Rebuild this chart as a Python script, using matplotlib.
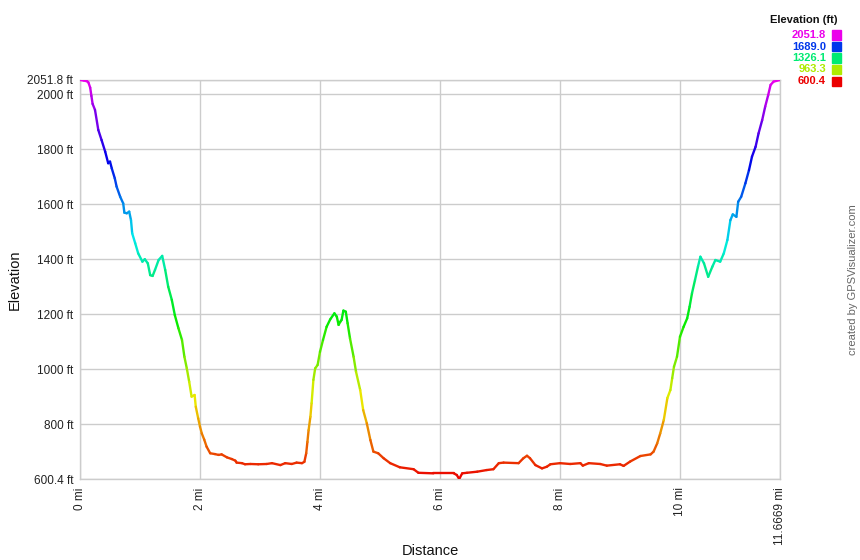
import numpy as np
import matplotlib
matplotlib.use("Agg")
import matplotlib.pyplot as plt
from matplotlib.collections import LineCollection
from matplotlib.colors import ListedColormap, Normalize, hsv_to_rgb

plt.rcParams['font.family'] = ['Liberation Sans', 'DejaVu Sans']

# ---- data (miles, feet) ----
dist = [0.00, 0.06, 0.12, 0.14, 0.17, 0.19, 0.21, 0.25, 0.305, 0.36, 0.42, 0.47, 0.50, 0.53,
        0.58, 0.61, 0.67, 0.72, 0.74, 0.78, 0.82, 0.85, 0.87, 0.92, 0.97, 1.04, 1.08, 1.13,
        1.17, 1.21, 1.25, 1.31, 1.37, 1.42, 1.47, 1.53, 1.58, 1.64, 1.70, 1.74, 1.78, 1.82,
        1.86, 1.91, 1.93, 1.97, 2.00, 2.03, 2.07, 2.11, 2.17, 2.25, 2.31, 2.36, 2.45, 2.53,
        2.59, 2.61, 2.70, 2.75, 2.84, 2.97, 3.11, 3.20, 3.34, 3.42, 3.53, 3.61, 3.70, 3.74,
        3.77, 3.79, 3.81, 3.84, 3.86, 3.89, 3.92, 3.96, 4.00, 4.05, 4.11, 4.17, 4.24, 4.28,
        4.31, 4.34, 4.36, 4.39, 4.43, 4.46, 4.50, 4.56, 4.60, 4.67, 4.72, 4.78, 4.84, 4.89,
        4.97, 5.06, 5.17, 5.33, 5.56, 5.64, 5.89, 6.23, 6.28, 6.32, 6.37, 6.45, 6.62, 6.78,
        6.89, 6.98, 7.06, 7.31, 7.39, 7.45, 7.50, 7.59, 7.70, 7.78, 7.84, 8.00, 8.17, 8.34,
        8.38, 8.48, 8.67, 8.78, 9.00, 9.06, 9.17, 9.34, 9.51, 9.56, 9.62, 9.67, 9.73, 9.79,
        9.84, 9.87, 9.90, 9.95, 10.00, 10.06, 10.12, 10.16, 10.20, 10.25, 10.30, 10.34, 10.40,
        10.47, 10.54, 10.59, 10.67, 10.73, 10.79, 10.84, 10.88, 10.94, 10.97, 11.02, 11.09,
        11.15, 11.20, 11.26, 11.31, 11.37, 11.42, 11.47, 11.51, 11.56, 11.6669]
elev = [2051.8, 2050, 2047, 2043, 2024, 1994, 1965, 1943, 1870, 1833, 1791, 1749, 1755, 1730,
        1694, 1664, 1627, 1603, 1569, 1567, 1573, 1542, 1494, 1458, 1421, 1391, 1400, 1385,
        1342, 1339, 1361, 1397, 1412, 1361, 1300, 1252, 1197, 1149, 1106, 1045, 1003, 954,
        900, 906, 863, 821, 791, 766, 744, 718, 694, 691, 688, 690, 679, 673,
        667, 660, 658, 654, 655, 654, 655, 658, 651, 658, 655, 660, 658, 663,
        694, 735, 778, 827, 876, 961, 1003, 1015, 1063, 1106, 1154, 1181, 1203, 1191,
        1161, 1173, 1179, 1213, 1209, 1167, 1112, 1045, 991, 924, 851, 803, 742, 700,
        694, 676, 658, 643, 636, 623, 621, 621, 615, 600.4, 621, 623, 627, 633,
        636, 658, 660, 658, 676, 685, 676, 651, 639, 645, 654, 658, 655, 658,
        649, 658, 655, 649, 654, 648, 664, 684, 690, 700, 730, 766, 815, 895,
        924, 967, 1009, 1045, 1118, 1154, 1185, 1227, 1276, 1324, 1373, 1409, 1385,
        1336, 1373, 1397, 1391, 1421, 1470, 1542, 1563, 1554, 1609, 1627, 1676,
        1724, 1773, 1809, 1858, 1906, 1955, 1997, 2034, 2046, 2051.8]

y_min, y_max = 600.4, 2051.8
x_max = 11.6669
y_ticks = [600.4, 800, 1000, 1200, 1400, 1600, 1800, 2000, 2051.8]
y_ticklabels = ["600.4 ft", "800 ft", "1000 ft", "1200 ft", "1400 ft", "1600 ft",
                "1800 ft", "2000 ft", "2051.8 ft"]
x_ticks = [0, 2, 4, 6, 8, 10, 11.6669]
x_ticklabels = ["0 mi", "2 mi", "4 mi", "6 mi", "8 mi", "10 mi", "11.6669 mi"]
legend_values = [2051.8, 1689.0, 1326.1, 963.3, 600.4]
legend_labels = ["2051.8", "1689.0", "1326.1", "963.3", "600.4"]

# colormap: hue 0 (red) -> 300 deg (magenta)
hues = np.linspace(0, 300 / 360, 256)
hsv = np.stack([hues, np.ones_like(hues), np.full_like(hues, 0.92)], axis=1)
cmap = ListedColormap(hsv_to_rgb(hsv))
norm = Normalize(y_min, y_max)

W, H = 860, 560
fig = plt.figure(figsize=(W / 100, H / 100), dpi=100)
ax = fig.add_axes([80 / W, 1 - 479 / H, 700 / W, 399 / H])

pts = np.column_stack([dist, elev]).reshape(-1, 1, 2)
segs = np.concatenate([pts[:-1], pts[1:]], axis=1)
mid = (np.array(elev[:-1]) + np.array(elev[1:])) / 2
lc = LineCollection(segs, cmap=cmap, norm=norm, linewidths=1.7, capstyle='round',
                    joinstyle='round', zorder=3)
lc.set_array(mid)
ax.add_collection(lc)

ax.set_xlim(0, x_max)
ax.set_ylim(y_min, y_max)
ax.set_yticks(y_ticks)
ax.set_yticklabels(y_ticklabels)
ax.set_xticks(x_ticks)
ax.set_xticklabels(x_ticklabels, rotation=90)
ax.grid(True, color='#cccccc', linewidth=1.0, zorder=0)
ax.set_axisbelow(True)
for s in ax.spines.values():
    s.set_color('#cccccc')
    s.set_linewidth(1.0)
ax.tick_params(length=0, labelsize=8.5, colors='#222222', pad=5)
ax.tick_params(axis='x', pad=6)

fig.text(430 / W, 1 - 551 / H, "Distance", ha='center', va='center', fontsize=10.5, color='#111111')
fig.text(15 / W, 1 - 280 / H, "Elevation", ha='center', va='center', rotation=90,
         fontsize=10.5, color='#111111')
fig.text(853 / W, 1 - 280 / H, "created by GPSVisualizer.com", ha='center', va='center',
         rotation=90, fontsize=8, color='#666666')

# legend
fig.text(837 / W, 1 - 20 / H, "Elevation (ft)", ha='right', va='center', fontsize=8,
         fontweight='bold', color='#111111')
for i, (v, lab) in enumerate(zip(legend_values, legend_labels)):
    yc = 35 + i * 11.5
    col = cmap(norm(v))
    fig.text(826 / W, 1 - yc / H, lab, ha='right', va='center', fontsize=8,
             fontweight='bold', color=col)
    fig.patches.append(plt.Rectangle((831.5 / W, 1 - (yc + 4.5) / H), 9 / W, 9 / H,
                                     transform=fig.transFigure, color=col, figure=fig))

fig.savefig("out.png", dpi=100, facecolor='white')
